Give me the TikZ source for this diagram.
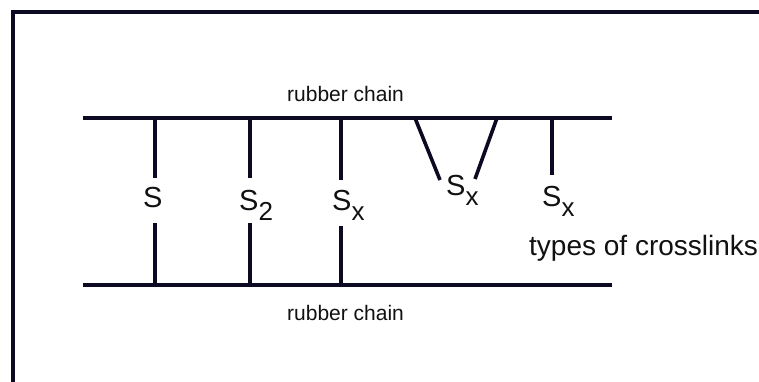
\documentclass[tikz,border=0pt]{standalone}
\usepackage{fontspec}
\setmainfont{Liberation Sans}
\definecolor{ink}{HTML}{0C0A22}
\definecolor{txt}{HTML}{111111}
\tikzset{
  chainline/.style={draw=ink, line width=4pt},
  linkline/.style={draw=ink, line width=3.6pt},
  framestyle/.style={draw=ink, line width=4pt},
  chainlabel/.style={anchor=base west, inner sep=0pt, text=txt, font=\fontsize{21}{25}\selectfont},
  slabel/.style={anchor=base west, inner sep=0pt, text=txt, font=\fontsize{29}{32}\selectfont},
  notelabel/.style={anchor=base west, inner sep=0pt, text=txt, font=\fontsize{28}{32}\selectfont},
}
\newcommand{\lowsub}[1]{\raisebox{-10pt}{\fontsize{26}{28}\selectfont #1}}
\begin{document}
\begin{tikzpicture}[x=1pt,y=-1pt]
\useasboundingbox (0,0) rectangle (759,382);
\clip (0,0) rectangle (759,382);
\fill[white] (0,0) rectangle (759,382);
% frame
\draw[framestyle] (13,12) rectangle (820,440);
% chains
\coordinate (tcL) at (83,118);
\coordinate (tcR) at (612,118);
\coordinate (bcL) at (83,285);
\coordinate (bcR) at (612,285);
\draw[chainline] (tcL) -- (tcR);
\draw[chainline] (bcL) -- (bcR);
\node[chainlabel] (topchain) at (287,102) {rubber chain};
\node[chainlabel] (botchain) at (287,320) {rubber chain};
% labels
\node[slabel] (s1) at (143,207) {S};
\node[slabel] (s2) at (239,210) {S\lowsub{2}};
\node[slabel] (s3) at (332,210.5) {S\lowsub{x}};
\node[slabel] (s4) at (446,195) {S\lowsub{x}};
\node[slabel] (s5) at (542,206.5) {S\lowsub{x}};
\node[notelabel] (types) at (529,255) {types of crosslinks};
% link endpoints
\coordinate (a1) at (155,118); \coordinate (a2) at (155,178);
\coordinate (a3) at (155,223); \coordinate (a4) at (155,285);
\coordinate (b1) at (250,118); \coordinate (b2) at (250,178);
\coordinate (b3) at (250,223); \coordinate (b4) at (250,285);
\coordinate (c1) at (341,118); \coordinate (c2) at (341,180);
\coordinate (c3) at (341,226); \coordinate (c4) at (341,285);
\coordinate (v1) at (415,118); \coordinate (v2) at (440,180);
\coordinate (v3) at (497,118); \coordinate (v4) at (475,179);
\coordinate (e1) at (552,118); \coordinate (e2) at (552,175);
\draw[linkline] (a1) -- (a2);
\draw[linkline] (a3) -- (a4);
\draw[linkline] (b1) -- (b2);
\draw[linkline] (b3) -- (b4);
\draw[linkline] (c1) -- (c2);
\draw[linkline] (c3) -- (c4);
\draw[linkline] (v1) -- (v2);
\draw[linkline] (v3) -- (v4);
\draw[linkline] (e1) -- (e2);
\end{tikzpicture}
\end{document}
